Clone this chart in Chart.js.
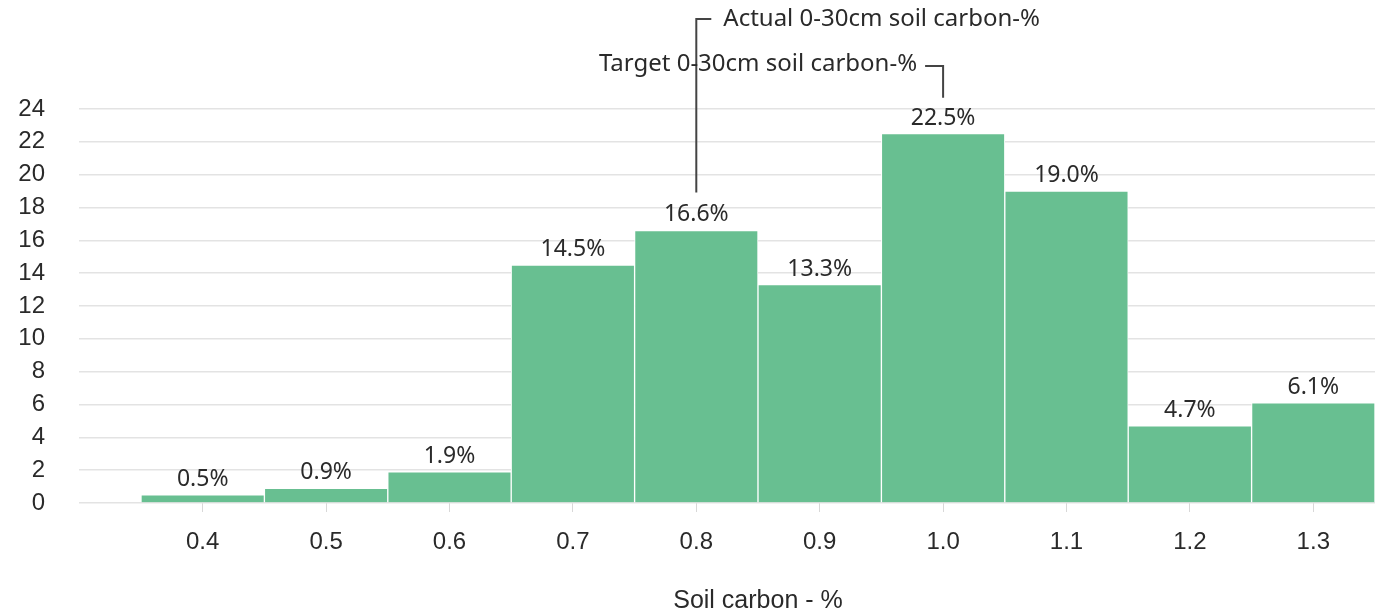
<!DOCTYPE html>
<html>
<head>
<meta charset="utf-8">
<script src="https://cdn.jsdelivr.net/npm/chart.js@4"></script>
<style>
  html, body { margin: 0; padding: 0; background: #fff; }
  #wrap { width: 1375px; height: 612px; }
</style>
</head>
<body>
<div id="wrap"><canvas id="soilChart"></canvas></div>
<script>
// Soil carbon bins (x categories) and share of samples in each bin (%)
const categories = ['0.4', '0.5', '0.6', '0.7', '0.8', '0.9', '1.0', '1.1', '1.2', '1.3'];
const shares = [0.5, 0.9, 1.9, 14.5, 16.6, 13.3, 22.5, 19.0, 4.7, 6.1];
const yTicks = [0, 2, 4, 6, 8, 10, 12, 14, 16, 18, 20, 22, 24];

// Marker annotations: which bin they point to and their text
const markerLabels = ['Actual 0-30cm soil carbon-%', 'Target 0-30cm soil carbon-%'];
const markerBins = ['0.8', '1.0'];

const barColor = '#68bf91';
const textColor = '#2a2a2a';
const gridColor = '#e3e3e3';
const labelFont = '"Noto Sans", "Open Sans", sans-serif';
const axisFont = '"Liberation Sans", Arial, sans-serif';

// Draws the "x.x%" label above each bar
const barLabels = {
    id: 'barLabels',
    afterDatasetsDraw(chart) {
        const c = chart.ctx;
        const meta = chart.getDatasetMeta(0);
        c.save();
        c.font = '23px ' + labelFont;
        c.fillStyle = textColor;
        c.textAlign = 'center';
        c.textBaseline = 'alphabetic';
        meta.data.forEach((bar, i) => {
            c.fillText(shares[i].toFixed(1) + '%', bar.x, bar.y - 9);
        });
        c.restore();
    }
};

// Draws the two leader-line annotations (actual on the left, target on the right)
const markers = {
    id: 'markers',
    afterDraw(chart) {
        const c = chart.ctx;
        const x = chart.scales.x;
        const y = chart.scales.y;
        c.save();
        c.strokeStyle = '#444';
        c.lineWidth = 2;
        c.font = '24px ' + labelFont;
        c.fillStyle = textColor;
        c.textBaseline = 'middle';

        // actual marker: line goes up from the bar, then right to the text
        let idx = categories.indexOf(markerBins[0]);
        let px = x.getPixelForValue(idx);
        let top = y.getPixelForValue(shares[idx]) - 38;
        c.beginPath();
        c.moveTo(px, top);
        c.lineTo(px, 19);
        c.lineTo(px + 15, 19);
        c.stroke();
        c.textAlign = 'left';
        c.fillText(markerLabels[0], px + 27, 19);

        // target marker: text on the left, line goes right then down to the bar
        idx = categories.indexOf(markerBins[1]);
        px = x.getPixelForValue(idx);
        top = y.getPixelForValue(shares[idx]) - 36;
        c.beginPath();
        c.moveTo(px - 18, 66);
        c.lineTo(px, 66);
        c.lineTo(px, top);
        c.stroke();
        c.textAlign = 'right';
        c.fillText(markerLabels[1], px - 26, 64);
        c.restore();
    }
};

const ctx = document.getElementById('soilChart').getContext('2d');

new Chart(ctx, {
    type: 'bar',
    data: {
        labels: categories,
        datasets: [{
            data: shares,
            backgroundColor: barColor,
            borderColor: '#ffffff',
            borderWidth: 1,
            barPercentage: 1,
            categoryPercentage: 1
        }]
    },
    options: {
        responsive: true,
        maintainAspectRatio: false,
        animation: false,
        layout: { padding: { top: 109, right: 0, bottom: 0, left: 0 } },
        plugins: {
            legend: { display: false },
            tooltip: { enabled: false }
        },
        scales: {
            x: {
                border: { display: false },
                grid: {
                    offset: false,
                    drawOnChartArea: false,
                    drawTicks: true,
                    tickLength: 9,
                    color: '#d8d8d8'
                },
                ticks: {
                    color: textColor,
                    font: { family: axisFont, size: 24 },
                    padding: 16
                },
                title: {
                    display: true,
                    text: 'Soil carbon - %',
                    color: textColor,
                    font: { family: axisFont, size: 25, lineHeight: 0.9 },
                    padding: { top: 0, bottom: 0 }
                },
                afterFit(scale) { scale.height = 109; }
            },
            y: {
                min: 0,
                max: 24,
                border: { display: false },
                grid: {
                    color: gridColor,
                    lineWidth: 1.5,
                    drawTicks: true,
                    tickLength: 62
                },
                afterBuildTicks(scale) {
                    scale.ticks = yTicks.map(v => ({ value: v }));
                },
                ticks: {
                    color: textColor,
                    font: { family: axisFont, size: 24 },
                    padding: 34
                },
                afterFit(scale) { scale.width = 141; }
            }
        }
    },
    plugins: [barLabels, markers]
});
</script>
</body>
</html>
